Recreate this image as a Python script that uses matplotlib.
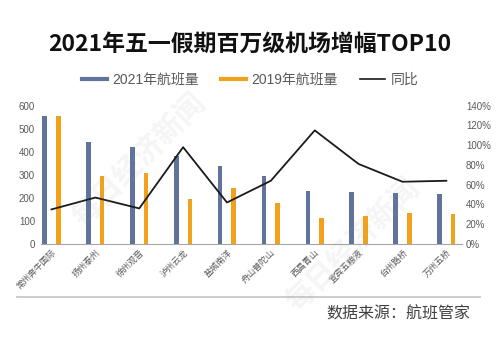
import matplotlib
matplotlib.use("Agg")
import matplotlib.pyplot as plt
from matplotlib.lines import Line2D
import numpy as np

plt.rcParams['font.family'] = ['Noto Sans CJK SC', 'DejaVu Sans']

airports = ['常州奔牛国际', '扬州泰州', '徐州观音', '泸州云龙', '盐城南洋',
            '舟山普陀山', '西昌青山', '宜宾五粮液', '台州路桥', '万州五桥']
flights_2021 = [554, 443, 419, 382, 339, 296, 231, 227, 220, 218]
flights_2019 = [554, 296, 306, 193, 244, 178, 112, 123, 135, 131]
yoy = [35, 47, 36, 98, 42, 64, 115, 81, 63, 64]  # 同比, %

c2021 = '#61739a'
c2019 = '#f2a21a'
grey = '#595959'
num_font = ['Liberation Sans', 'Noto Sans CJK SC']

fig = plt.figure(figsize=(5, 3.48), dpi=100)
ax = fig.add_axes([0.0814, 0.2989, 0.842, 0.3974])
ax2 = ax.twinx()

x = np.arange(len(airports))
w = 0.105
ax.bar(x - 0.155, flights_2021, w, color=c2021, zorder=2)
ax.bar(x + 0.155, flights_2019, w, color=c2019, zorder=2)
ax2.plot(x, yoy, color='#1a1a1a', lw=1.3, zorder=3)

ax.set_xlim(-0.246, 9.35)
ax.set_ylim(0, 600)
ax2.set_ylim(0, 140)
ax.set_yticks(range(0, 601, 100))
ax2.set_yticks(range(0, 141, 20))
ax2.set_yticklabels([f'{v}%' for v in range(0, 141, 20)])

for a in (ax, ax2):
    for s in a.spines.values():
        s.set_visible(False)
    a.tick_params(length=0, labelsize=7, labelcolor=grey)
    for t in a.get_yticklabels():
        t.set_family(num_font)
ax.spines['bottom'].set_visible(True)
ax.spines['bottom'].set_color('#a6a6a6')
ax.spines['bottom'].set_linewidth(0.8)
ax.tick_params(axis='y', pad=4)
ax2.tick_params(axis='y', pad=3)

ax.set_xticks(x)
ax.set_xticklabels(airports, rotation=45, ha='right', va='top',
                   rotation_mode='anchor', fontsize=6.2, color=grey)
ax.tick_params(axis='x', pad=3)

fig.text(0.5, 1 - 44 / 348, '2021年五一假期百万级机场增幅TOP10',
         ha='center', va='center', fontsize=16.5, fontweight='bold', color='#111111')

handles = [Line2D([], [], color=c2021, lw=3),
           Line2D([], [], color=c2019, lw=3),
           Line2D([], [], color='#1a1a1a', lw=1.2)]
leg = fig.legend(handles, ['2021年航班量', '2019年航班量', '同比'],
                 loc='center', bbox_to_anchor=(0.5, 1 - 80 / 348), ncol=3,
                 frameon=False, fontsize=10, labelcolor=grey,
                 handlelength=1.8, handletextpad=0.4, columnspacing=1.6)
for t in leg.get_texts():
    t.set_family(num_font)

# separator and source note
fig.add_artist(Line2D([17 / 500, 480 / 500], [1 - 297 / 348] * 2,
                      color='#c8c8c8', lw=1.3))
fig.text(470 / 500, 1 - 314 / 348, '数据来源：航班管家', ha='right', va='center',
         fontsize=11.5, color='#404040')

# watermark
for cx, cy in [(138, 160), (352, 245)]:
    fig.text(cx / 500, 1 - cy / 348, '每日经济新闻', ha='center', va='center',
             rotation=45, fontsize=21, fontweight='bold', color='#9a9a9a',
             alpha=0.1)

fig.savefig('out.png', dpi=100)
